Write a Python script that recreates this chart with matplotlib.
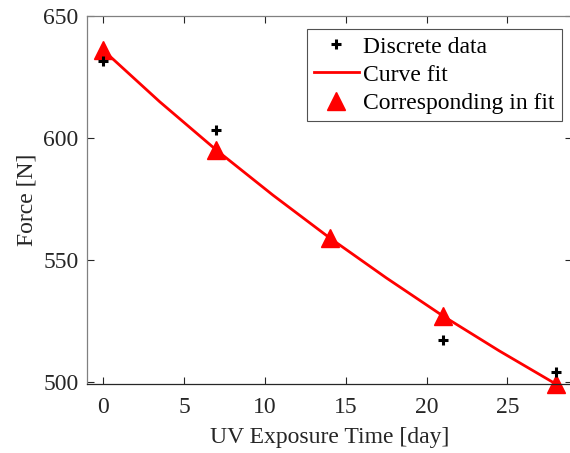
import matplotlib
matplotlib.use("Agg")
import matplotlib.pyplot as plt

# measured data
days = [0, 7, 14, 21, 28]
force_data = [631.5, 603.3, None, 517.0, 504.0]
# fitted values at the same days
force_fit = [636.0, 595.0, 559.0, 527.0, 499.0]
# curve fit
curve_days = [0, 3.5, 7, 10.5, 14, 17.5, 21, 24.5, 28]
curve_force = [636.0, 614.8, 595.0, 576.5, 559.0, 542.6, 527.0, 512.6, 499.0]

plt.rcParams['font.family'] = ['Liberation Serif', 'DejaVu Serif']
plt.rcParams['mathtext.fontset'] = 'stix'

fig = plt.figure(figsize=(5.70, 4.53), dpi=100)
ax = fig.add_axes([87 / 570, 1 - 384 / 453, 485 / 570, 368 / 453])

dx = [d for d, f in zip(days, force_data) if f is not None]
dy = [f for f in force_data if f is not None]
ax.plot(dx, dy, '+', color='black', markersize=7, markeredgewidth=2.2,
        label='Discrete data', zorder=3)
ax.plot(curve_days, curve_force, '-', color='red', linewidth=2,
        label='Curve fit', zorder=2)
ax.plot(days, force_fit, '^', color='red', markersize=13, linestyle='none',
        label='Corresponding in fit', zorder=2, clip_on=False)

ax.set_xlim(-1, 29)
ax.set_ylim(499, 650)
ax.set_xticks([0, 5, 10, 15, 20, 25])
ax.set_yticks([500, 550, 600, 650])
ax.tick_params(direction='in', length=5, width=0.8, labelsize=17,
               top=True, right=True, colors='#262626')
ax.tick_params(axis='x', pad=9.5)
ax.tick_params(axis='y', pad=6)
for sp in ['left', 'top', 'right']:
    ax.spines[sp].set_color('#808080')
ax.spines['bottom'].set_color('#262626')
for sp in ax.spines.values():
    sp.set_linewidth(0.9)

ax.set_xlabel('UV Exposure Time [day]', fontsize=17, color='#262626',
              labelpad=6)
ax.set_ylabel('Force [N]', fontsize=17, color='#262626', labelpad=4)

leg = ax.legend(loc='upper right', bbox_to_anchor=(1 - 10 / 485, 1 - 13 / 368),
                fontsize=17, frameon=True, fancybox=False, borderpad=0.3,
                labelspacing=0.28, handlelength=1.9, handletextpad=0.2,
                borderaxespad=0)
leg.get_frame().set_edgecolor('#262626')
leg.get_frame().set_linewidth(0.8)

fig.savefig('out.png', dpi=100)
